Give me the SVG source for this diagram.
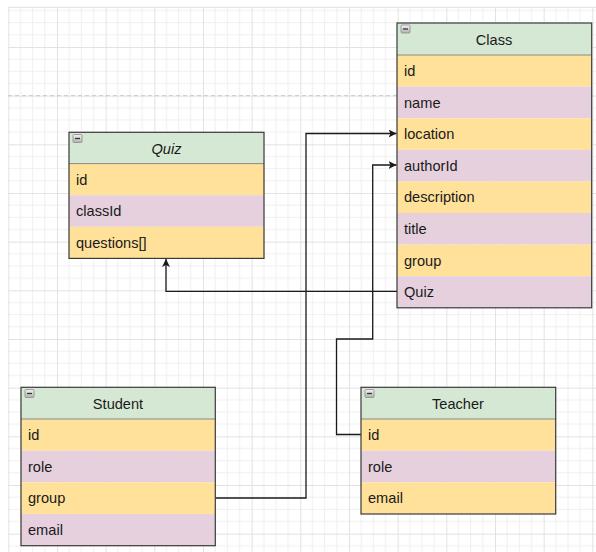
<svg xmlns="http://www.w3.org/2000/svg" width="596" height="552" viewBox="0 0 596 552">
  <style>
    text { font-family: "Liberation Sans", Arial, sans-serif; font-size: 14.6px; fill: #1a1a1a; }
    .title { text-anchor: middle; }
    .hdr { fill: #d5e8d4; }
    .y { fill: #ffe199; }
    .p { fill: #e6d0de; }
    .frame { fill: none; stroke: #3a3a3a; stroke-width: 1.2; }
    .sep { stroke: #8a8a8a; stroke-width: 1; }
    .edge { fill: none; stroke: #1a1a1a; stroke-width: 1.3; }
    .minor { stroke: #f0f0f0; stroke-width: 1; }
    .major { stroke: #e2e2e2; stroke-width: 1; }
  </style>
  <defs>
    <pattern id="grid" patternUnits="userSpaceOnUse" x="8.3" y="-1.7" width="48.67" height="48.67">
      <path class="minor" d="M12.17 0V48.67M24.33 0V48.67M36.5 0V48.67M0 12.17H48.67M0 24.33H48.67M0 36.5H48.67"/>
      <path class="major" d="M0.5 0V48.67M0 0.5H48.67"/>
    </pattern>
    <linearGradient id="btn" x1="0" y1="0" x2="0" y2="1">
      <stop offset="0" stop-color="#f4f4f4"/>
      <stop offset="1" stop-color="#b0b0b0"/>
    </linearGradient>
    <!-- small collapse toggle drawn in each table header -->
    <g id="collapse">
      <rect x="0" y="0" width="9" height="8" rx="1" fill="url(#btn)" stroke="#8c8c8c" stroke-width="0.8"/>
      <path d="M2 4H7" stroke="#333" stroke-width="1.3"/>
    </g>
    <marker id="arrow" viewBox="0 0 10 10" refX="10" refY="5" markerWidth="8" markerHeight="8" markerUnits="userSpaceOnUse" orient="auto">
      <path d="M0 0L10 5L0 10L2.5 5Z" fill="#1a1a1a"/>
    </marker>
  </defs>

  <!-- background grid -->
  <rect x="8" y="7" width="588" height="545" fill="#ffffff"/>
  <rect x="8" y="7" width="588" height="545" fill="url(#grid)"/>
  <line x1="8" y1="7.3" x2="596" y2="7.3" class="major"/>
  <line x1="8" y1="95.7" x2="596" y2="95.7" stroke="#c8c8c8" stroke-width="1" stroke-dasharray="4 3"/>

  <!-- connectors -->
  <g id="connectors">
    <path class="edge" d="M397 291.3H166V259" marker-end="url(#arrow)"/>
    <path class="edge" d="M215 498H306V133.5H396.5" marker-end="url(#arrow)"/>
    <path class="edge" d="M361 434.5H336.5V339H372.7V165H396.5" marker-end="url(#arrow)"/>
  </g>

  <!-- Class -->
  <g id="class">
    <rect class="hdr" x="397" y="23" width="194.7" height="32"/>
    <rect class="y" x="397" y="55" width="194.7" height="31.6"/>
    <rect class="p" x="397" y="86.6" width="194.7" height="31.6"/>
    <rect class="y" x="397" y="118.2" width="194.7" height="31.6"/>
    <rect class="p" x="397" y="149.8" width="194.7" height="31.6"/>
    <rect class="y" x="397" y="181.4" width="194.7" height="31.6"/>
    <rect class="p" x="397" y="213" width="194.7" height="31.6"/>
    <rect class="y" x="397" y="244.6" width="194.7" height="31.6"/>
    <rect class="p" x="397" y="276.2" width="194.7" height="31.6"/>
    <line class="sep" x1="397" y1="55" x2="591.7" y2="55"/>
    <rect class="frame" x="397" y="23" width="194.7" height="284.8"/>
    <use href="#collapse" x="401" y="25"/>
    <text class="title" x="494" y="44.5">Class</text>
    <text x="404" y="76">id</text>
    <text x="404" y="107.6">name</text>
    <text x="404" y="139.2">location</text>
    <text x="404" y="170.8">authorId</text>
    <text x="404" y="202.4">description</text>
    <text x="404" y="234">title</text>
    <text x="404" y="265.6">group</text>
    <text x="404" y="297.2">Quiz</text>
  </g>

  <!-- Quiz -->
  <g id="quiz">
    <rect class="hdr" x="69" y="132.3" width="195" height="31.3"/>
    <rect class="y" x="69" y="163.6" width="195" height="31.6"/>
    <rect class="p" x="69" y="195.2" width="195" height="31.6"/>
    <rect class="y" x="69" y="226.8" width="195" height="31.6"/>
    <line class="sep" x1="69" y1="163.6" x2="264" y2="163.6"/>
    <rect class="frame" x="69" y="132.3" width="195" height="126.1"/>
    <use href="#collapse" x="73" y="134.5"/>
    <text class="title" x="166.5" y="153.5" font-style="italic">Quiz</text>
    <text x="76" y="184.6">id</text>
    <text x="76" y="216.2">classId</text>
    <text x="76" y="247.8">questions[]</text>
  </g>

  <!-- Student -->
  <g id="student">
    <rect class="hdr" x="21" y="387.3" width="194.3" height="31.7"/>
    <rect class="y" x="21" y="419" width="194.3" height="31.7"/>
    <rect class="p" x="21" y="450.7" width="194.3" height="31.6"/>
    <rect class="y" x="21" y="482.3" width="194.3" height="31.7"/>
    <rect class="p" x="21" y="514" width="194.3" height="31.7"/>
    <line class="sep" x1="21" y1="419" x2="215.3" y2="419"/>
    <rect class="frame" x="21" y="387.3" width="194.3" height="158.4"/>
    <use href="#collapse" x="25" y="389.5"/>
    <text class="title" x="118" y="408.8">Student</text>
    <text x="28" y="440">id</text>
    <text x="28" y="471.6">role</text>
    <text x="28" y="503.2">group</text>
    <text x="28" y="534.9">email</text>
  </g>

  <!-- Teacher -->
  <g id="teacher">
    <rect class="hdr" x="361" y="387.3" width="194.7" height="31.7"/>
    <rect class="y" x="361" y="419" width="194.7" height="31.7"/>
    <rect class="p" x="361" y="450.7" width="194.7" height="31.6"/>
    <rect class="y" x="361" y="482.3" width="194.7" height="31.7"/>
    <line class="sep" x1="361" y1="419" x2="555.7" y2="419"/>
    <rect class="frame" x="361" y="387.3" width="194.7" height="126.7"/>
    <use href="#collapse" x="365" y="389.5"/>
    <text class="title" x="458" y="408.8">Teacher</text>
    <text x="368" y="440">id</text>
    <text x="368" y="471.6">role</text>
    <text x="368" y="503.2">email</text>
  </g>
</svg>
